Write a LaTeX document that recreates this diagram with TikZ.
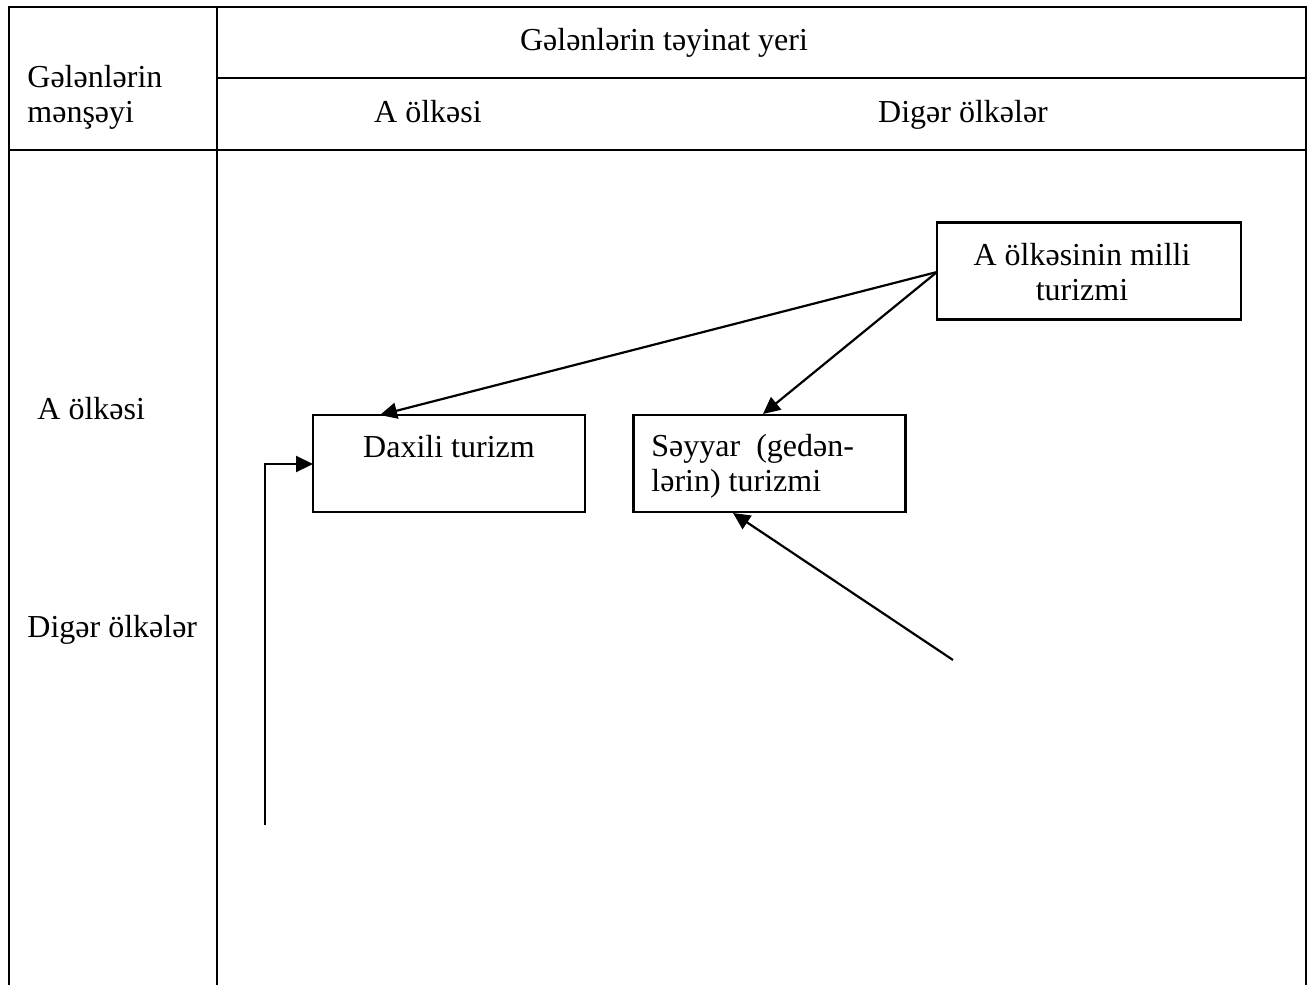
\documentclass[tikz,border=0pt]{standalone}
\usepackage{fontspec}
\setmainfont{Liberation Serif}
\usetikzlibrary{arrows.meta}
\begin{document}
\begin{tikzpicture}[x=0.5pt,y=-0.5pt,
  frame/.style={line width=1.1pt},
  box/.style={draw,line width=1.1pt,minimum width=136pt,minimum height=48.5pt,inner sep=0pt},
  lbl/.style={font=\fontsize{16}{17.5}\selectfont,inner sep=0pt},
  arr/.style={line width=1.1pt,-{Triangle[length=8.5pt,width=8pt]}}]
\useasboundingbox (0,0) rectangle (1313,985);
% table frame
\draw[frame] (9,985) -- (9,7) -- (1306,7) -- (1306,985);
\draw[frame] (217,7) -- (217,985);
\draw[frame] (217,78) -- (1306,78);
\draw[frame] (9,150) -- (1306,150);
% header texts
\node[lbl] (h1) at (664,43) {Gələnlərin təyinat yeri};
\node[lbl,anchor=west,align=left] (h0) at (27,97) {Gələnlərin\\mənşəyi};
\node[lbl,anchor=base] (hA) at (428,122) {A ölkəsi};
\node[lbl,anchor=base] (hD) at (963,122) {Digər ölkələr};
\node[lbl,anchor=base west] (rA) at (37,419) {A ölkəsi};
\node[lbl,anchor=base west] (rD) at (27,637) {Digər ölkələr};
% boxes
\node[box,minimum width=152pt] (milli) at (1089,271) {};
\node[lbl,align=center] (millit) at (1082,272) {A ölkəsinin milli\\turizmi};
\node[box] (daxili) at (449,463.5) {};
\node[lbl] (daxilit) at (449,447) {Daxili turizm};
\node[box] (seyyar) at (769.5,463.5) {};
\node[lbl,anchor=west,align=left] (seyyart) at (651,466) {Səyyar\ \ (gedən-\\lərin) turizmi};
% connectors
\coordinate (m1) at (937,272);
\coordinate (d1) at (380,415);
\coordinate (s1) at (763,414);
\coordinate (f1) at (953,660);
\coordinate (s2) at (733,513);
\coordinate (e0) at (265,825);
\coordinate (e1) at (265,464);
\coordinate (d2) at (313,464);
\draw[arr] (m1) -- (d1);
\draw[arr] (m1) -- (s1);
\draw[arr] (f1) -- (s2);
\draw[arr] (e0) -- (e1) -- (d2);
\end{tikzpicture}
\end{document}
